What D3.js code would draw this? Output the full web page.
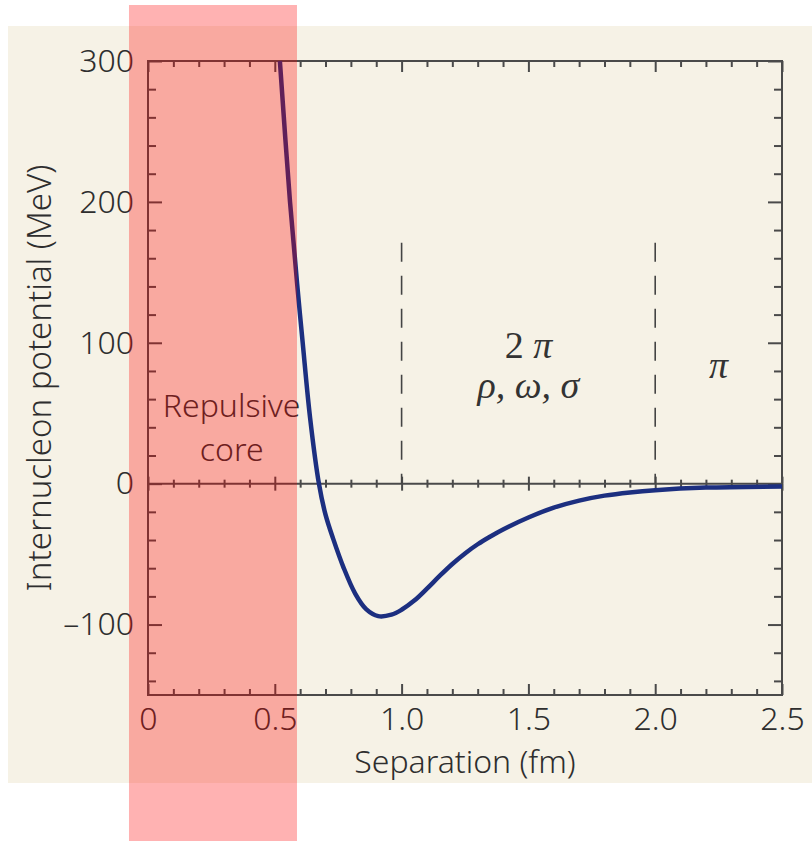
<!DOCTYPE html>
<html>
<head>
<meta charset="utf-8">
<script src="https://cdn.jsdelivr.net/npm/d3@7"></script>
<style>
  body { margin: 0; background: #fff; }
  svg { display: block; }
  .tick text { font-family: "Noto Sans", sans-serif; font-weight: 300; font-size: 32px; fill: #2e2e2e; }
</style>
</head>
<body>
<svg width="812" height="841"></svg>
<script>
// separation (fm) and potential (MeV)
const sepFm  = [0.52, 0.56, 0.588, 0.61, 0.639, 0.674, 0.70, 0.73, 0.77, 0.817, 0.86, 0.908, 0.96, 1.0, 1.05, 1.1, 1.15, 1.2, 1.25, 1.3, 1.35, 1.4, 1.5, 1.6, 1.7, 1.8, 1.9, 2.0, 2.2, 2.5];
const potMeV = [300, 200, 142, 100, 47, 0, -22, -39, -59, -78, -89, -94, -93, -89.5, -83, -74.5, -65.5, -57, -49.5, -43, -37.5, -32.5, -24, -17, -12, -8.5, -6.2, -4.6, -2.8, -2];

const xMajor = [0, 0.5, 1.0, 1.5, 2.0, 2.5];
const xLabels = ["0", "0.5", "1.0", "1.5", "2.0", "2.5"];
const yMajor = [-100, 0, 100, 200, 300];
const yLabels = ["\u2013100", "0", "100", "200", "300"];

const coreStart = -0.075, coreEnd = 0.5875;   // shaded repulsive core band
const boundaries = [1.0, 2.0];                // dashed range markers
const boundaryTop = 171;

var svg = d3.select("svg"),
    width = +svg.attr("width"),
    height = +svg.attr("height");

var x = d3.scaleLinear().domain([0, 2.5]).range([148, 782]);
var y = d3.scaleLinear().domain([-150, 300]).range([695, 61]);

var xMinor = d3.range(0, 26).map(i => i / 10).filter(v => Math.abs(v * 2 - Math.round(v * 2)) > 1e-6);
var yMinor = d3.range(-140, 300, 20).filter(v => v % 100 !== 0);

// beige panel
svg.append("rect")
    .attr("x", 8).attr("y", 26)
    .attr("width", width - 8).attr("height", 757)
    .attr("fill", "#f6f2e6");

var axisColor = "#4a4a4a";

function styleAxis(g) {
    g.select(".domain").remove();
    g.selectAll(".tick line").attr("stroke", axisColor).attr("stroke-width", 2);
}

// bottom
svg.append("g").attr("transform", "translate(0," + y(-150) + ")")
    .call(d3.axisBottom(x).tickValues(xMajor).tickSize(-11).tickPadding(12)
        .tickFormat((d, i) => xLabels[i]))
    .call(styleAxis);
svg.append("g").attr("transform", "translate(0," + y(-150) + ")")
    .call(d3.axisBottom(x).tickValues(xMinor).tickSize(-6).tickFormat(""))
    .call(styleAxis);
// top
svg.append("g").attr("transform", "translate(0," + y(300) + ")")
    .call(d3.axisTop(x).tickValues(xMajor).tickSize(-11).tickFormat(""))
    .call(styleAxis);
svg.append("g").attr("transform", "translate(0," + y(300) + ")")
    .call(d3.axisTop(x).tickValues(xMinor).tickSize(-6).tickFormat(""))
    .call(styleAxis);
// left
svg.append("g").attr("transform", "translate(" + x(0) + ",0)")
    .call(d3.axisLeft(y).tickValues(yMajor).tickSize(-14).tickPadding(14)
        .tickFormat((d, i) => yLabels[i]))
    .call(styleAxis);
svg.append("g").attr("transform", "translate(" + x(0) + ",0)")
    .call(d3.axisLeft(y).tickValues(yMinor).tickSize(-8).tickFormat(""))
    .call(styleAxis);
// right
svg.append("g").attr("transform", "translate(" + x(2.5) + ",0)")
    .call(d3.axisRight(y).tickValues(yMajor).tickSize(-14).tickFormat(""))
    .call(styleAxis);
svg.append("g").attr("transform", "translate(" + x(2.5) + ",0)")
    .call(d3.axisRight(y).tickValues(yMinor).tickSize(-8).tickFormat(""))
    .call(styleAxis);
// zero line with ticks on both sides
[1, -1].forEach(function (s) {
    svg.append("g").attr("transform", "translate(0," + y(0) + ")")
        .call(d3.axisBottom(x).tickValues(xMajor).tickSize(7 * s).tickFormat(""))
        .call(styleAxis);
    svg.append("g").attr("transform", "translate(0," + y(0) + ")")
        .call(d3.axisBottom(x).tickValues(xMinor).tickSize(4 * s).tickFormat(""))
        .call(styleAxis);
});
svg.append("line")
    .attr("x1", x(0)).attr("x2", x(2.5))
    .attr("y1", y(0)).attr("y2", y(0))
    .attr("stroke", axisColor).attr("stroke-width", 2);

// frame
svg.append("rect")
    .attr("x", x(0)).attr("y", y(300))
    .attr("width", x(2.5) - x(0)).attr("height", y(-150) - y(300))
    .attr("fill", "none").attr("stroke", axisColor).attr("stroke-width", 2);

// dashed boundaries
svg.selectAll(".boundary").data(boundaries).enter().append("line")
    .attr("class", "boundary")
    .attr("x1", d => x(d)).attr("x2", d => x(d))
    .attr("y1", y(boundaryTop)).attr("y2", y(0))
    .attr("stroke", "#444").attr("stroke-width", 1.6)
    .attr("stroke-dasharray", "19,14");

// potential curve
var line = d3.line()
    .x((d, i) => x(sepFm[i]))
    .y((d, i) => y(potMeV[i]))
    .curve(d3.curveCatmullRom);
svg.append("path")
    .datum(sepFm)
    .attr("d", line)
    .attr("fill", "none")
    .attr("stroke", "#1c2f80")
    .attr("stroke-width", 4.5)
    .attr("stroke-linejoin", "round");

// labels
var sans = "'Noto Sans', sans-serif";
svg.append("text")
    .attr("x", x(1.25)).attr("y", 773)
    .attr("text-anchor", "middle")
    .style("font-family", sans).style("font-weight", 300).style("font-size", "32px").style("fill", "#2e2e2e")
    .text("Separation (fm)");
svg.append("text")
    .attr("transform", "translate(51," + y(75) + ") rotate(-90)")
    .attr("text-anchor", "middle")
    .style("font-family", sans).style("font-weight", 300).style("font-size", "33px").style("fill", "#2e2e2e")
    .text("Internucleon potential (MeV)");

svg.append("text")
    .attr("x", x(0.33)).attr("y", y(47))
    .attr("text-anchor", "middle")
    .style("font-family", sans).style("font-weight", 300).style("font-size", "32px").style("fill", "#2e2e2e")
    .text("Repulsive");
svg.append("text")
    .attr("x", x(0.33)).attr("y", y(16))
    .attr("text-anchor", "middle")
    .style("font-family", sans).style("font-weight", 300).style("font-size", "32px").style("fill", "#2e2e2e")
    .text("core");

var serif = "'Liberation Serif', 'DejaVu Serif', serif";
var t1 = svg.append("text")
    .attr("x", x(1.5)).attr("y", y(89))
    .attr("text-anchor", "middle")
    .style("font-family", serif).style("font-size", "38px").style("fill", "#333");
t1.append("tspan").text("2 ");
t1.append("tspan").style("font-style", "italic").text("\u03c0");
svg.append("text")
    .attr("x", x(1.5)).attr("y", y(61))
    .attr("text-anchor", "middle")
    .style("font-family", serif).style("font-size", "38px").style("font-style", "italic").style("fill", "#333")
    .text("\u03c1, \u03c9, \u03c3");
svg.append("text")
    .attr("x", x(2.25)).attr("y", y(75))
    .attr("text-anchor", "middle")
    .style("font-family", serif).style("font-size", "38px").style("font-style", "italic").style("fill", "#333")
    .text("\u03c0");

// translucent core band over everything
svg.append("rect")
    .attr("x", x(coreStart)).attr("y", 5)
    .attr("width", x(coreEnd) - x(coreStart)).attr("height", height - 5)
    .attr("fill", "rgb(255, 0, 0)").attr("fill-opacity", 0.3);
</script>
</body>
</html>
